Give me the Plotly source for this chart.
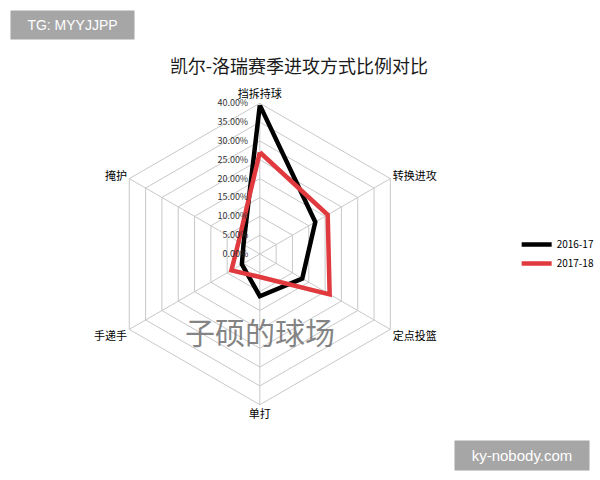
import plotly.graph_objects as go

categories = ["挡拆持球", "转换进攻", "定点投篮", "单打", "手递手", "掩护"]
season_names = ["2016-17", "2017-18"]
values_2016_17 = [0.395, 0.170, 0.130, 0.112, 0.055, 0.050]
values_2017_18 = [0.270, 0.208, 0.214, 0.061, 0.087, 0.065]
tick_values = [0, 0.05, 0.10, 0.15, 0.20, 0.25, 0.30, 0.35, 0.40]

FONT = "Noto Sans CJK SC"

fig = go.Figure()
for name, vals, color in [
    (season_names[0], values_2016_17, "#000000"),
    (season_names[1], values_2017_18, "#e0393e"),
]:
    fig.add_trace(go.Scatterpolar(
        r=vals + vals[:1],
        theta=categories + categories[:1],
        mode="lines",
        name=name,
        line=dict(color=color, width=4.5),
    ))

W, H = 600, 480
cx, cy, R = 262, 254, 152
fig.update_layout(
    width=W, height=H,
    autosize=False,
    margin=dict(l=0, r=0, t=0, b=0),
    paper_bgcolor="white",
    plot_bgcolor="white",
    font=dict(family=FONT, color="#000"),
    title=dict(text="凯尔-洛瑞赛季进攻方式比例对比", x=299 / W, xanchor="center",
               y=1 - 67 / H, yanchor="middle",
               font=dict(family=FONT, size=18, color="#1a1a1a")),
    polar=dict(
        domain=dict(x=[(cx - R) / W, (cx + R) / W],
                    y=[(H - cy - R) / H, (H - cy + R) / H]),
        bgcolor="white",
        gridshape="linear",
        radialaxis=dict(
            range=[0, 0.40],
            tickvals=tick_values,
            tickformat=".2%",
            angle=90,
            tickangle=90,
            side="counterclockwise",
            showline=False,
            ticks="outside",
            ticklen=8,
            tickcolor="rgba(0,0,0,0)",
            gridcolor="#c8c8c8",
            gridwidth=1,
            tickfont=dict(family=FONT, size=9, color="#333"),
        ),
        angularaxis=dict(
            rotation=90,
            direction="clockwise",
            linecolor="#c8c8c8",
            linewidth=1,
            gridcolor="#c8c8c8",
            gridwidth=1,
            ticks="",
            tickfont=dict(family=FONT, size=11, color="#000"),
        ),
    ),
    legend=dict(
        x=521 / W, y=1 - 254 / H, xanchor="left", yanchor="middle",
        font=dict(family=FONT, size=10, color="#000"),
        bgcolor="rgba(0,0,0,0)",
        tracegroupgap=2,
    ),
    annotations=[
        dict(text="子硕的球场", x=262 / W, y=1 - 355 / H, xref="paper", yref="paper",
             showarrow=False, font=dict(family=FONT, size=30, color="rgba(110,110,110,0.85)")),
        dict(text="TG: MYYJJPP", x=10 / W, y=1 - 25 / H, xref="paper", yref="paper",
             xanchor="left", yanchor="middle", showarrow=False,
             bgcolor="#a6a6a6", borderpad=6, width=111,
             font=dict(family="Liberation Sans", size=14, color="white")),
        dict(text="ky-nobody.com", x=595 / W, y=1 - 455 / H, xref="paper", yref="paper",
             xanchor="right", yanchor="middle", showarrow=False,
             bgcolor="#a6a6a6", borderpad=6, width=122,
             font=dict(family="Liberation Sans", size=15, color="white")),
    ],
)

fig.write_html(
    "out.html",
    config={"responsive": False, "displayModeBar": False},
    post_script="document.body.style.margin='0';document.body.style.overflow='hidden';",
)
